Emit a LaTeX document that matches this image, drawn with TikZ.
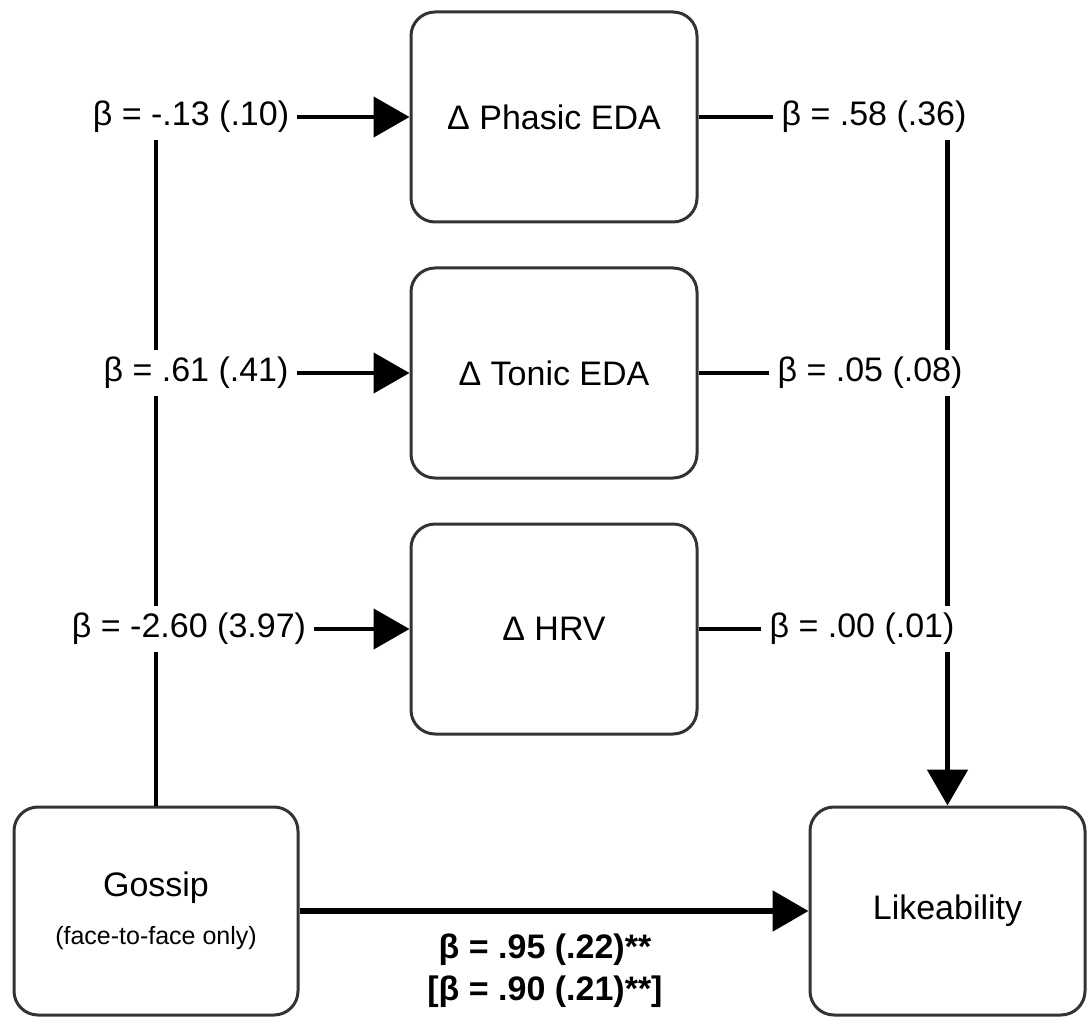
\documentclass[tikz,border=0pt]{standalone}
\usepackage{fontspec}
\setmainfont{Liberation Sans}
\usetikzlibrary{arrows.meta}
\begin{document}
\begin{tikzpicture}[x=1pt,y=-1pt,
 box/.style={draw=black!80, line width=3pt, rounded corners=24pt, inner sep=0pt, align=center, font=\fontsize{34}{40}\selectfont},
 lab/.style={inner xsep=8pt, inner ysep=0pt, minimum height=46pt, font=\fontsize{34}{40}\selectfont},
 conn/.style={line width=4.5pt},
 thick conn/.style={line width=5.5pt},
 arr/.style={-{Triangle[length=36pt,width=40pt]}}]
\useasboundingbox (0,0) rectangle (1088,1019);
\node[box, minimum width=286pt, minimum height=210pt] (phasic) at (554,117) {Δ Phasic EDA};
\node[box, minimum width=286pt, minimum height=210pt] (tonic) at (554,373) {Δ Tonic EDA};
\node[box, minimum width=286pt, minimum height=210pt] (hrv) at (554,629) {Δ HRV};
\node[box, minimum width=284pt, minimum height=208pt] (gossip) at (156,911) {Gossip\\[8pt]{\fontsize{25}{30}\selectfont (face-to-face only)}};
\node[box, minimum width=275pt, minimum height=208pt] (like) at (947.5,911) {Likeability};
\node[lab] (l1) at (191,117) {β = -.13 (.10)};
\node[lab] (l2) at (196,373) {β = .61 (.41)};
\node[lab] (l3) at (189,629) {β = -2.60 (3.97)};
\node[lab] (r1) at (874,117) {β = .58 (.36)};
\node[lab] (r2) at (870,373) {β = .05 (.08)};
\node[lab] (r3) at (862,629) {β = .00 (.01)};
\node[align=center, inner sep=0pt, font=\fontsize{34}{42}\selectfont\bfseries] (b) at (545,971) {β = .95 (.22)**\\{}[β = .90 (.21)**]};
\draw[conn] (gossip.north) -- (l3.south -| gossip.north);
\draw[conn] (l3.north -| gossip.north) -- (l2.south -| gossip.north);
\draw[conn] (l2.north -| gossip.north) -- (l1.south -| gossip.north);
\draw[conn, arr] (l1.east) -- (phasic.west);
\draw[conn, arr] (l2.east) -- (tonic.west);
\draw[conn, arr] (l3.east) -- (hrv.west);
\draw[conn] (phasic.east) -- (r1.west);
\draw[conn] (tonic.east) -- (r2.west);
\draw[conn] (hrv.east) -- (r3.west);
\draw[thick conn] (r1.south -| like.north) -- (r2.north -| like.north);
\draw[thick conn] (r2.south -| like.north) -- (r3.north -| like.north);
\draw[thick conn, arr] (r3.south -| like.north) -- (like.north);
\draw[thick conn, arr] (gossip.east) -- (like.west);
\end{tikzpicture}
\end{document}
